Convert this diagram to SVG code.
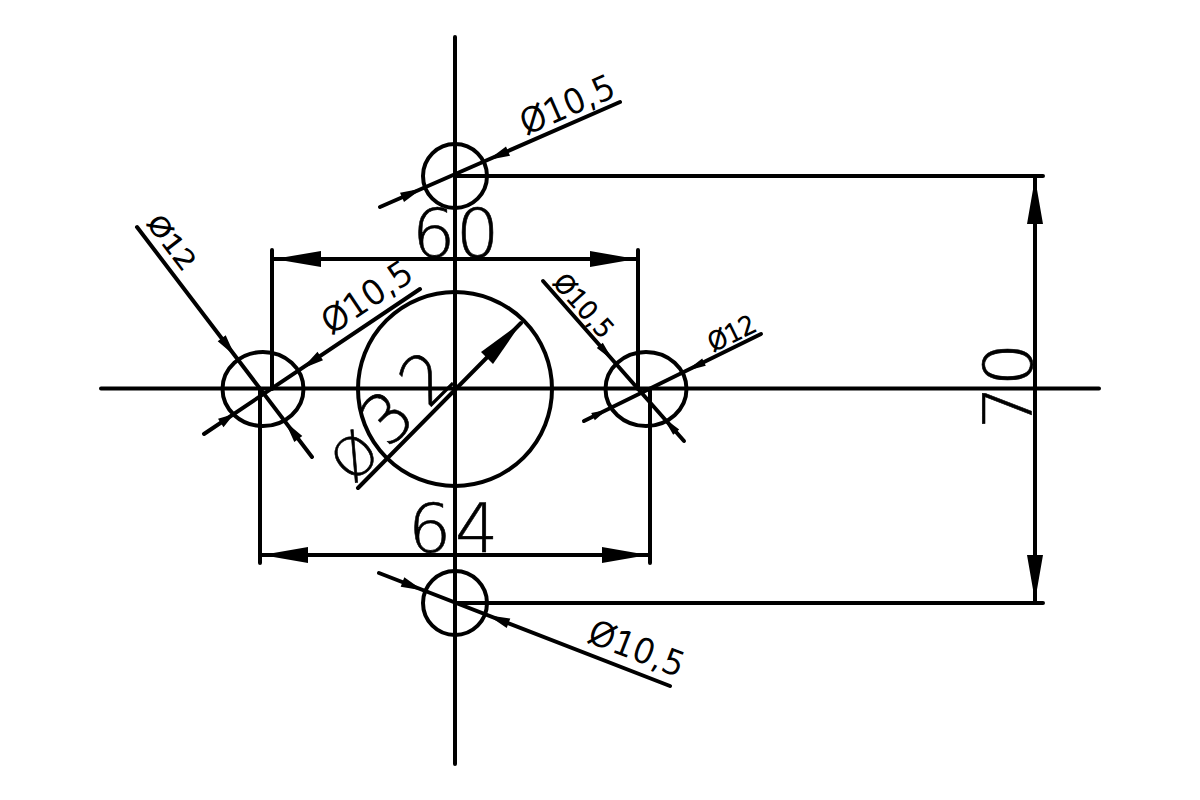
<svg xmlns="http://www.w3.org/2000/svg" width="1200" height="800" viewBox="0 0 1200 800">
<style>
.l{stroke:#000;stroke-width:4;fill:none;stroke-linecap:round}
.c{stroke:#000;stroke-width:4;fill:none}
.a{fill:#000;stroke:none}
.t{font-family:"DejaVu Sans",sans-serif;font-weight:200;fill:#000;stroke:#000}
.big{font-size:68px;stroke-width:.6}
.mid{font-size:33px;stroke-width:1.300}
.sm{font-size:25px;stroke-width:1.400}
</style>
<rect width="1200" height="800" fill="#fff"/>
<g id="connectors">
<path class="l" d="M455 37V764M101 388.500H1099"/>
<path class="l" d="M455 176H1043M455 603H1043M1035 178V601"/>
<path class="l" d="M272 250V389M638 250V389M274 259H636"/>
<path class="l" d="M260 389V563M650 389V563M262 555H648"/>
<path class="l" d="M380 207L620 102M379 573L670 686"/>
<path class="l" d="M137 227L312 457M204 434L420 289"/>
<path class="l" d="M358 488L521 323"/>
<path class="l" d="M543 281L684 441M584 421L761 334"/>
<path class="a" d="M1035 178L1043 224H1027ZM1035 601L1027 555H1043Z"/>
<path class="a" d="M274 259L321 251V267ZM636 259L590 251V267Z"/>
<path class="a" d="M262 555L308 547V563ZM648 555L602 547V563Z"/>
<path class="a" d="M522 322L493 364L481 352Z"/>
<path class="a" d="M488 160L510 155.800L506 146.600ZM422 188.600L404 202L400 192.800Z"/>
<path class="a" d="M423 590.600L404.300 577.300L400.700 586.700ZM488 615.300L510.300 618.600L506.700 628Z"/>
<path class="a" d="M235 356L225.700 335.300L217.700 341.300ZM285 421.500L302.300 436L294.300 442Z"/>
<path class="a" d="M302 368.800L323 360.200L317.500 351.800ZM234 414L223.500 427.200L218 418.800Z"/>
<path class="a" d="M613 360.400L602.800 342.800L596.800 348ZM663 417.200L679.200 429.600L673.200 434.800Z"/>
<path class="a" d="M686 371L705.800 365.800L702.200 358.600ZM607 409.700L594.800 420.200L591.200 413Z"/>
</g>
<g id="hole-top"><circle class="c" cx="455" cy="176" r="32"/></g>
<g id="hole-bottom"><circle class="c" cx="455" cy="603" r="32"/></g>
<g id="hole-left"><ellipse class="c" cx="263" cy="389" rx="40.500" ry="37"/></g>
<g id="hole-right"><ellipse class="c" cx="646" cy="389" rx="40.500" ry="37"/></g>
<g id="hole-center"><circle class="c" cx="455" cy="389" r="97"/></g>
<g id="labels">
<text class="t big" x="412 456" y="257">60</text>
<text class="t big" x="408 455" y="552">64</text>
<text class="t big" transform="translate(1032 429) rotate(-90)" x="0 43">70</text>
<text class="t big" transform="translate(353 485) rotate(-45)"><tspan font-size="54" x="0">Ø</tspan><tspan x="50 106">32</tspan></text>
<text class="t mid" transform="translate(526 135) rotate(-23.600)" textLength="100" lengthAdjust="spacingAndGlyphs">Ø10,5</text>
<text class="t mid" transform="translate(586 641) rotate(21.200)" textLength="100" lengthAdjust="spacingAndGlyphs">Ø10,5</text>
<text class="t mid" transform="translate(331 335) rotate(-34)" textLength="102" lengthAdjust="spacingAndGlyphs">Ø10,5</text>
<text class="t sm" transform="translate(146 223) rotate(52.700)" textLength="62" lengthAdjust="spacingAndGlyphs">Ø12</text>
<text class="t sm" transform="translate(552 283) rotate(48.600)" textLength="76" lengthAdjust="spacingAndGlyphs">Ø10,5</text>
<text class="t sm" transform="translate(713 352) rotate(-26)" textLength="50" lengthAdjust="spacingAndGlyphs">Ø12</text>
</g>
</svg>
